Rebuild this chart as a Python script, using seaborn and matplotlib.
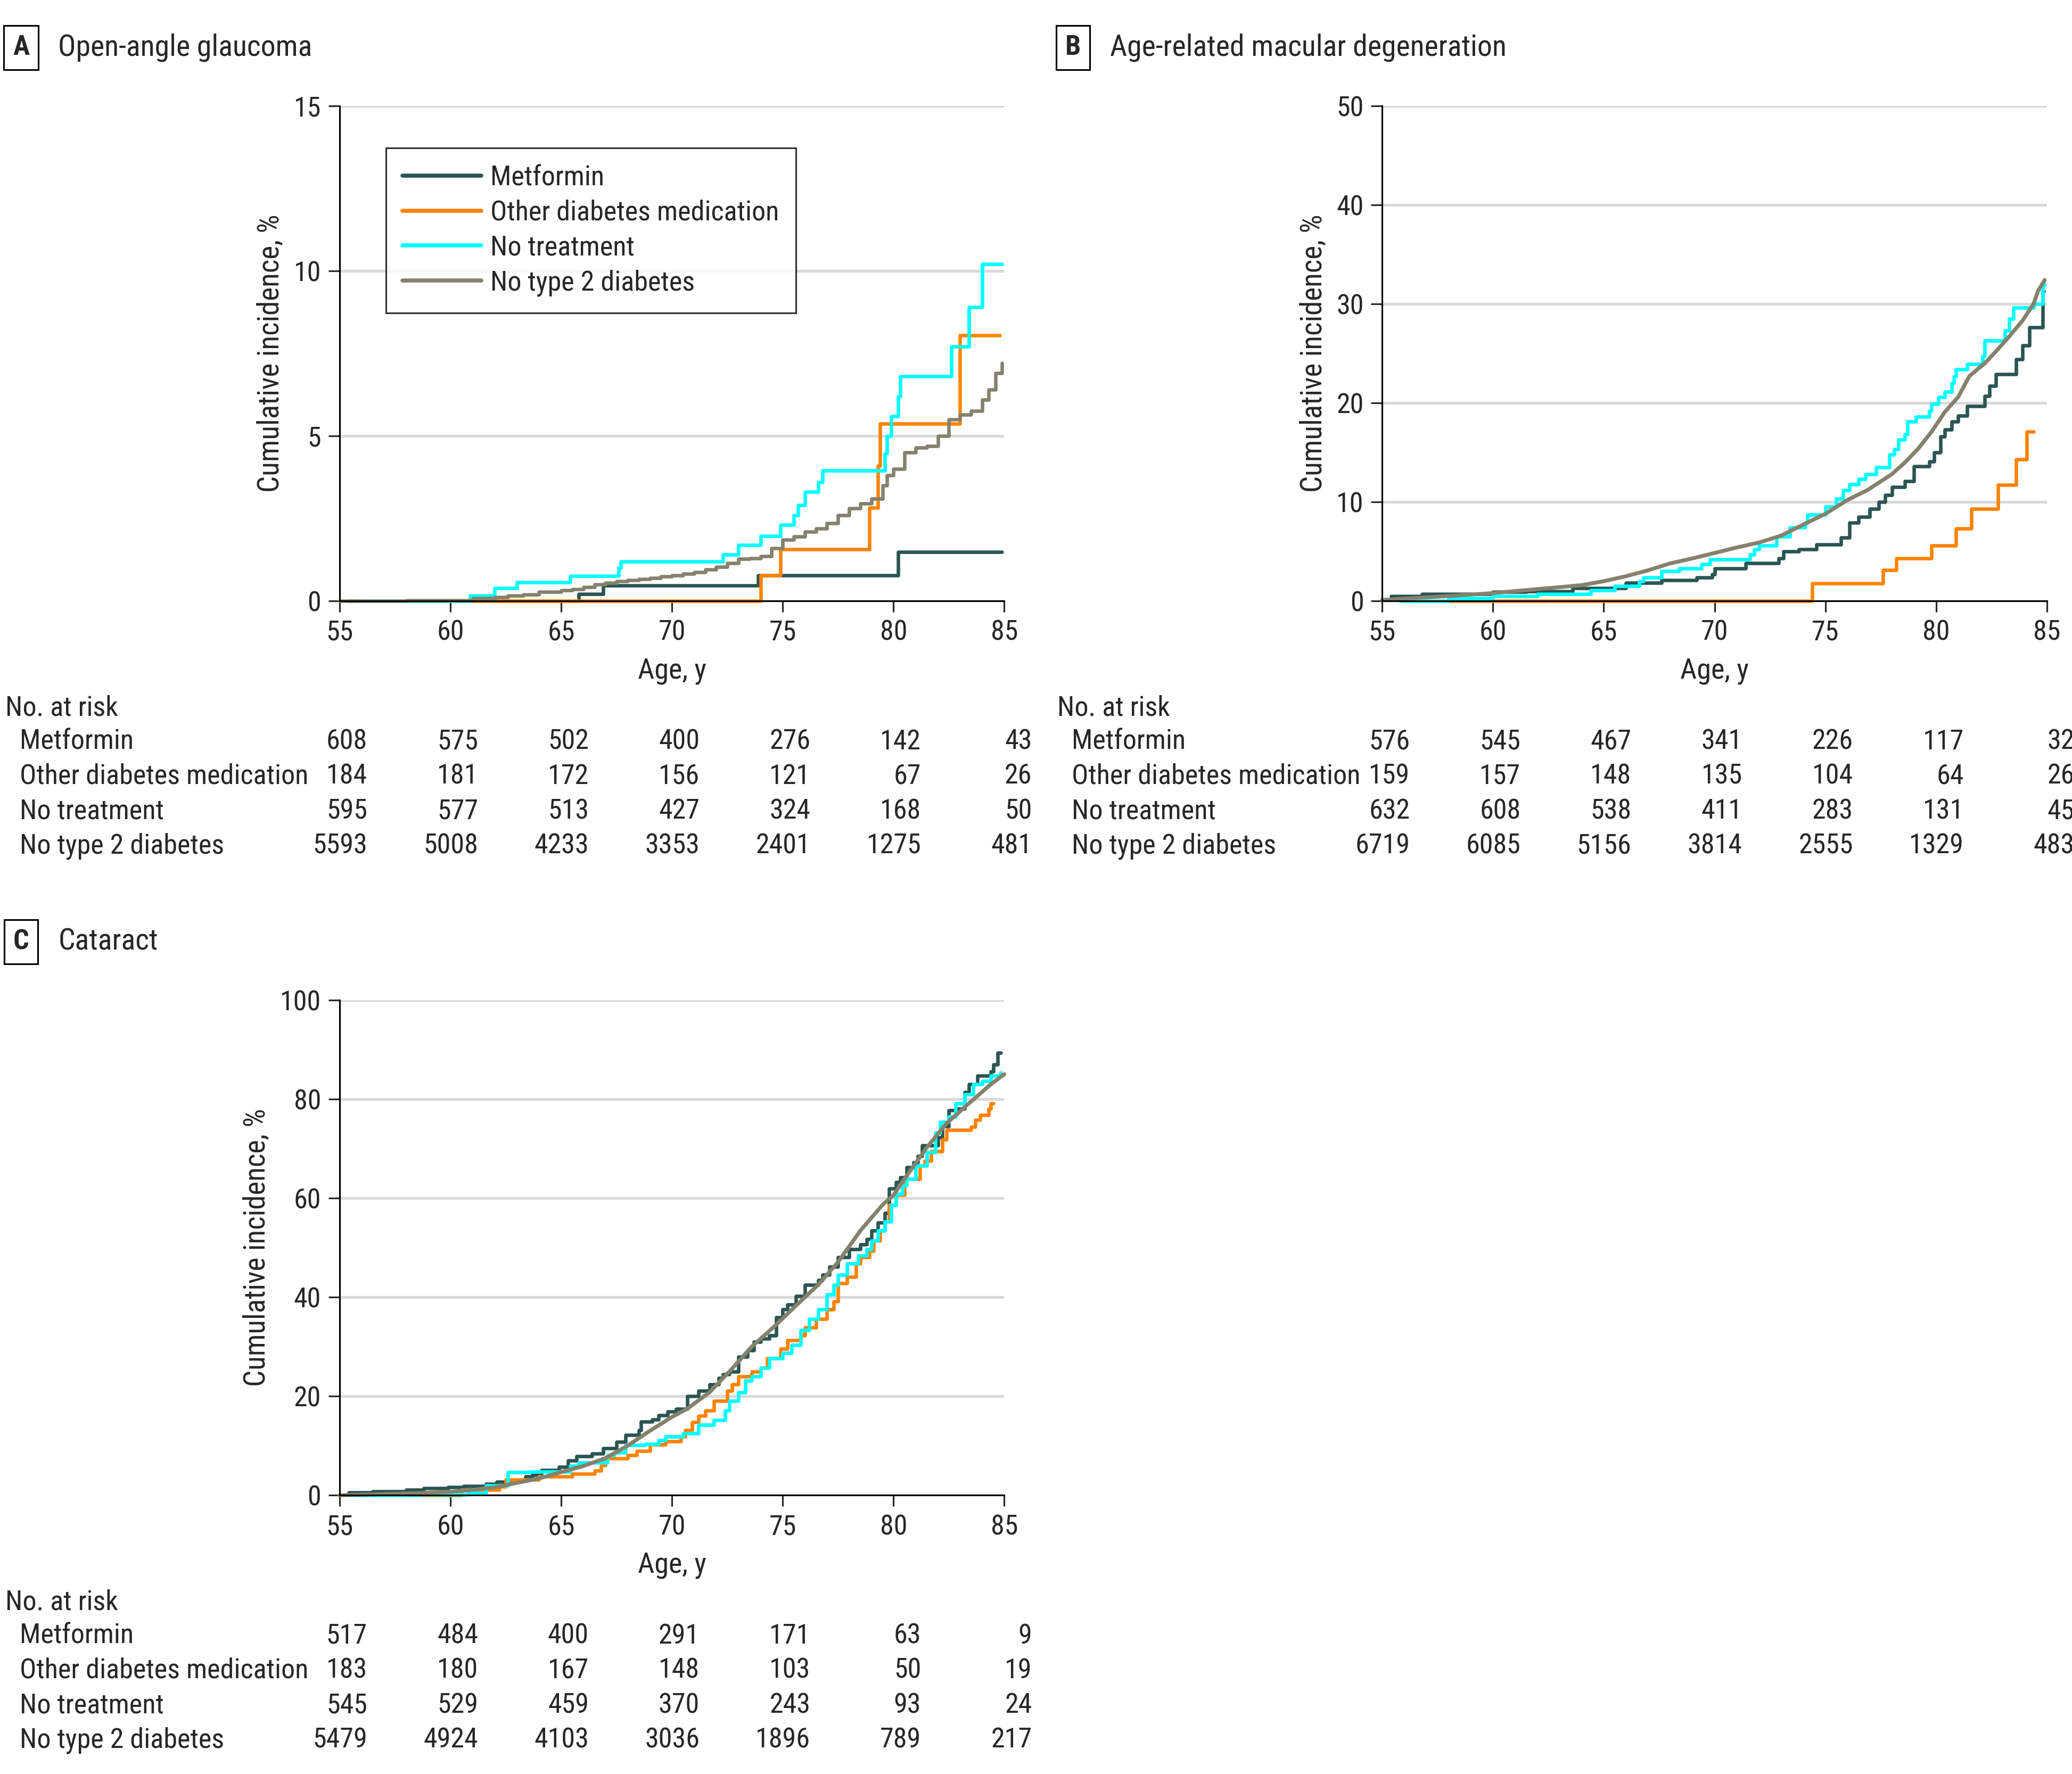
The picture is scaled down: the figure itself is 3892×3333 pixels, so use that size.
import re
import numpy as np
import pandas as pd
import matplotlib
matplotlib.use("Agg")
import matplotlib.pyplot as plt
import matplotlib.transforms as mtrans
import matplotlib.font_manager as fm
from matplotlib.textpath import TextPath
import seaborn as sns

# ---- data ----
groups = ["Metformin", "Other diabetes medication", "No treatment", "No type 2 diabetes"]
colors = ["#2A5552", "#FF8300", "#00FFFF", "#84826D"]
age_ticks = [55, 60, 65, 70, 75, 80, 85]

# panel A: open-angle glaucoma, (age, cumulative incidence %)
a_met = [(55.4, 0), (65.8, 0.22), (66.9, 0.47), (73.9, 0.78), (80.2, 1.48), (84.9, 1.48)]
a_oth = [(58, 0), (74.0, 0.78), (74.9, 1.57), (78.9, 2.82), (79.3, 4.1), (79.4, 5.37),
         (83.0, 8.05), (84.8, 8.05)]
a_not = [(56, 0), (60.9, 0.17), (62.0, 0.39), (63.0, 0.56), (65.4, 0.76), (67.6, 1.0), (67.7, 1.2),
         (72.3, 1.4), (73.0, 1.7), (74.0, 1.97), (74.9, 2.3), (75.5, 2.6), (75.7, 2.9), (76.0, 3.3),
         (76.6, 3.6), (76.8, 3.95), (79.6, 4.47), (79.7, 5.0), (79.9, 5.6), (80.2, 6.2), (80.3, 6.8),
         (82.6, 7.7), (83.4, 8.9), (84.0, 10.2), (84.9, 10.2)]
a_non = [(55, 0), (58, 0.02), (61, 0.09), (62, 0.12), (62.6, 0.17), (63.3, 0.2), (64, 0.27), (65, 0.32),
         (65.5, 0.35), (66, 0.42), (66.5, 0.5), (67, 0.55), (67.5, 0.6), (68, 0.63), (68.5, 0.67),
         (69, 0.7), (69.5, 0.74), (70, 0.78), (70.5, 0.82), (71, 0.88), (71.5, 0.95), (72, 1.03),
         (72.5, 1.15), (73, 1.28), (73.5, 1.3), (74, 1.35), (74.5, 1.6), (75, 1.85), (75.5, 1.95),
         (76, 2.1), (76.5, 2.2), (77, 2.35), (77.5, 2.6), (78, 2.8), (78.5, 2.95), (79, 3.1),
         (79.5, 3.5), (79.7, 3.8), (80, 4.0), (80.5, 4.5), (81, 4.65), (81.5, 4.7), (82, 5.0),
         (82.5, 5.5), (83, 5.65), (83.5, 5.75), (84, 6.1), (84.3, 6.4), (84.6, 6.9), (84.9, 7.2)]

# panel B: age-related macular degeneration
b_met = [(55.4, 0.5), (56.8, 0.7), (60, 0.9), (61.5, 1.0), (63.6, 1.3), (66, 1.85), (67.6, 2.1),
         (69.2, 2.4), (69.9, 2.7), (70.0, 3.3), (71.4, 3.8), (72.9, 4.3), (73.1, 5.0), (73.8, 5.2),
         (74.6, 5.7), (75.7, 6.4), (76.1, 7.9), (76.5, 8.5), (77.0, 9.3), (77.4, 10.0), (77.7, 10.7),
         (78.0, 11.5), (78.6, 12.1), (79.0, 13.6), (79.7, 14.1), (79.9, 15.0), (80.2, 16.6),
         (80.4, 17.3), (80.7, 18.1), (81.0, 18.7), (81.4, 19.7), (82.2, 20.7), (82.4, 21.7),
         (82.7, 22.9), (83.6, 24.4), (83.9, 25.8), (84.2, 27.6), (84.8, 31.3), (84.85, 31.3)]
b_oth = [(58, 0), (74.4, 1.8), (77.6, 3.1), (78.2, 4.3), (79.8, 5.6), (80.9, 7.3), (81.6, 9.3),
         (82.8, 11.7), (83.6, 14.3), (84.1, 17.1), (84.4, 17.1)]
b_not = [(55.8, 0), (58, 0.3), (60, 0.5), (62, 0.7), (64.4, 1.1), (65.5, 1.5), (66.6, 2.0), (66.8, 2.4),
         (67.6, 3.0), (68.4, 3.3), (69.4, 3.7), (69.8, 4.2), (71.6, 4.7), (71.8, 5.2), (72.0, 5.6),
         (72.8, 6.5), (73.4, 7.4), (74.1, 7.9), (74.2, 8.7), (75.0, 9.5), (75.5, 10.3), (75.8, 11.2),
         (76.1, 11.8), (76.5, 12.3), (76.8, 12.8), (77.3, 13.5), (77.9, 14.8), (78.1, 15.3),
         (78.3, 16.3), (78.6, 16.8), (78.7, 18.1), (79.1, 18.6), (79.7, 19.2), (79.8, 19.9),
         (80.1, 20.6), (80.4, 21.1), (80.7, 22.0), (80.8, 22.7), (80.9, 23.4), (81.4, 23.9),
         (82.1, 24.7), (82.2, 26.3), (83.1, 27.3), (83.3, 28.5), (83.5, 29.6), (84.4, 30.0),
         (84.8, 31.9), (84.9, 31.9)]
b_non = [(55, 0.1), (58, 0.5), (60, 0.8), (62, 1.2), (64, 1.6), (65, 2.0), (66, 2.5), (67, 3.1),
         (68, 3.8), (69, 4.3), (70, 4.85), (71, 5.4), (72, 5.9), (73, 6.6), (73.9, 7.6), (75.0, 8.8),
         (76.0, 10.2), (76.9, 11.2), (78.0, 12.8), (78.6, 14.0), (79.2, 15.4), (79.8, 17.1),
         (80.4, 19.1), (81.0, 20.6), (81.5, 22.7), (82.2, 24.0), (82.7, 25.2), (83.3, 26.7),
         (83.9, 28.3), (84.4, 30.0), (84.6, 31.3), (84.9, 32.4)]

# panel C: cataract
c_met = [(55.4, 0.6), (56.5, 0.8), (58.0, 1.1), (58.8, 1.4), (59.9, 1.6), (60.6, 1.9), (61.6, 2.3),
         (62.1, 2.7), (62.6, 3.05), (63.4, 3.8), (63.7, 4.1), (64.1, 5.1), (64.9, 5.7), (65.3, 7.0),
         (65.7, 7.9), (66.4, 8.4), (66.9, 9.5), (67.5, 10.8), (67.9, 12.2), (68.5, 13.1), (68.6, 14.9),
         (69.1, 15.3), (69.4, 16.2), (69.8, 16.9), (70.2, 17.4), (70.7, 20.0), (71.2, 21.1),
         (71.7, 22.4), (72.1, 23.7), (72.3, 24.4), (72.6, 25.0), (73.0, 28.0), (73.4, 29.3),
         (73.7, 31.0), (74.0, 31.6), (74.4, 32.3), (74.7, 35.9), (75.0, 37.5), (75.2, 38.5),
         (75.6, 40.2), (76.0, 42.5), (76.6, 43.5), (76.8, 44.5), (77.1, 46.1), (77.5, 48.1),
         (78.0, 49.7), (78.5, 50.7), (78.8, 51.7), (79.0, 53.4), (79.3, 55.0), (79.6, 57.0),
         (79.8, 61.9), (80.1, 63.2), (80.3, 64.2), (80.6, 66.2), (80.9, 67.2), (81.1, 68.5),
         (81.3, 70.6), (82.0, 72.2), (82.2, 74.5), (82.5, 77.7), (82.8, 78.1), (83.2, 81.4),
         (83.4, 83.0), (83.8, 84.7), (84.4, 85.6), (84.5, 87.0), (84.7, 89.3), (84.85, 89.3)]
c_oth = [(58.1, 0), (60.5, 1.15), (62.2, 1.8), (62.5, 3.2), (64.0, 3.8), (65.5, 4.3), (66.5, 5.0),
         (66.8, 6.1), (67.0, 7.5), (68.0, 8.1), (68.4, 9.0), (69.0, 10.2), (69.7, 10.9), (70.4, 11.9),
         (70.6, 13.2), (70.9, 14.8), (71.2, 16.1), (71.5, 17.1), (71.9, 19.1), (72.5, 21.1),
         (72.7, 22.4), (73.0, 24.0), (73.6, 25.0), (74.0, 25.7), (74.3, 27.7), (74.9, 29.6),
         (75.2, 31.3), (75.8, 32.3), (76.0, 33.9), (76.5, 35.6), (77.0, 37.5), (77.3, 39.2),
         (77.5, 42.8), (77.9, 44.1), (78.3, 46.8), (78.5, 48.1), (78.9, 49.4), (79.1, 51.4),
         (79.4, 53.4), (79.6, 55.3), (79.8, 58.6), (80.1, 60.6), (80.5, 63.9), (81.2, 66.5),
         (81.4, 67.5), (81.7, 69.5), (82.2, 71.8), (82.4, 73.8), (83.5, 74.4), (83.7, 75.8),
         (83.9, 76.8), (84.3, 78.1), (84.4, 79.1), (84.5, 79.1)]
c_not = [(55.4, 0), (58.6, 0.1), (60.8, 0.5), (61.6, 2.0), (62.6, 4.7), (63.6, 4.8), (65.4, 5.9),
         (65.8, 6.6), (67.1, 8.1), (67.4, 8.6), (67.9, 10.1), (68.8, 10.4), (69.4, 11.1), (69.7, 11.9),
         (70.5, 12.5), (71.2, 14.2), (71.9, 15.2), (72.4, 17.1), (72.6, 19.1), (73.0, 20.8),
         (73.3, 23.1), (73.6, 24.0), (74.0, 25.7), (74.4, 27.7), (75.0, 28.7), (75.4, 30.3),
         (75.8, 33.3), (76.2, 35.6), (76.6, 37.5), (77.0, 40.5), (77.3, 42.5), (77.5, 44.5),
         (77.9, 46.8), (78.4, 48.4), (78.8, 49.7), (79.0, 51.4), (79.3, 53.4), (79.6, 55.3),
         (79.9, 58.6), (80.1, 60.9), (80.4, 62.6), (80.6, 63.9), (81.0, 66.5), (81.5, 69.2),
         (81.9, 73.2), (82.1, 75.4), (82.5, 76.4), (82.8, 79.1), (83.2, 81.0), (83.6, 83.0),
         (84.0, 83.6), (84.4, 84.7), (84.85, 85.3)]
c_non = [(55, 0), (58.3, 0.4), (60, 0.7), (61, 1.1), (62, 1.6), (63, 2.5), (64, 3.4), (65, 4.7),
         (66, 5.9), (67, 7.5), (68, 10.0), (69, 13.0), (70, 15.8), (70.7, 17.5), (71.7, 20.8),
         (72.6, 25.0), (73.6, 30.0), (74.6, 34.0), (75.6, 38.3), (76.6, 42.5), (77.5, 47.1),
         (78.5, 53.4), (79.5, 58.6), (80.0, 60.6), (80.5, 63.9), (81.5, 70.2), (82.4, 75.1),
         (83.4, 79.1), (84.4, 83.0), (85, 85.0)]

# numbers at risk
a_risk = [[608, 575, 502, 400, 276, 142, 43],
          [184, 181, 172, 156, 121, 67, 26],
          [595, 577, 513, 427, 324, 168, 50],
          [5593, 5008, 4233, 3353, 2401, 1275, 481]]
b_risk = [[576, 545, 467, 341, 226, 117, 32],
          [159, 157, 148, 135, 104, 64, 26],
          [632, 608, 538, 411, 283, 131, 45],
          [6719, 6085, 5156, 3814, 2555, 1329, 483]]
c_risk = [[517, 484, 400, 291, 171, 63, 9],
          [183, 180, 167, 148, 103, 50, 19],
          [545, 529, 459, 370, 243, 93, 24],
          [5479, 4924, 4103, 3036, 1896, 789, 217]]

panels = [
    ("A", "Open-angle glaucoma", [a_met, a_oth, a_not, a_non], [0, 5, 10, 15], a_risk, True),
    ("B", "Age-related macular degeneration", [b_met, b_oth, b_not, b_non], [0, 10, 20, 30, 40, 50], b_risk, False),
    ("C", "Cataract", [c_met, c_oth, c_not, c_non], [0, 20, 40, 60, 80, 100], c_risk, False),
]


def pick_font():
    entries = fm.fontManager.ttflist
    names = {f.name for f in entries}
    for p in ["Roboto Condensed", "Liberation Sans Narrow", "Noto Sans Condensed",
              "DejaVu Sans Condensed", "Arial Narrow", "Open Sans Condensed"]:
        if p in names:
            return p, "normal"
    for fam in ["Roboto", "Noto Sans", "DejaVu Sans", "Open Sans", "Inter", "Lato"]:
        for f in entries:
            if f.name == fam and str(f.stretch) in ("condensed", "semi-condensed", "extra-condensed"):
                return fam, f.stretch
    for f in entries:
        if re.search("narrow|condensed", f.name, re.I):
            return f.name, "normal"
    return "Liberation Sans", "normal"


sns.set_style("white")
fam, stretch = pick_font()
plt.rcParams["font.family"] = [fam, "DejaVu Sans"]
plt.rcParams["font.stretch"] = stretch

# size the font so the longest row label is about as wide as in the reference
tp = TextPath((0, 0), "Other diabetes medication", size=10,
              prop=fm.FontProperties(family=fam, stretch=stretch))
FS = float(np.clip(10 * 158.0 / tp.get_extents().width, 11.5, 15.0))

W, H = 1568.0, 1343.0  # layout measured in reference pixels (shrunk view)
fig = plt.figure(figsize=(15.568, 13.332), dpi=250)

positions = [(257, 80), (1046, 80), (257, 757)]
aw, ah = 503, 375
pal = dict(zip(groups, colors))

for (letter, title, series, yticks, risk, all_steps), (lx, ty) in zip(panels, positions):
    ax = fig.add_axes([lx / W, 1 - (ty + ah) / H, aw / W, ah / H])
    rows = []
    for g, pts in zip(groups, series):
        for a, v in pts:
            rows.append((g, a, v))
    df = pd.DataFrame(rows, columns=["group", "age", "inc"])
    step_groups = groups if all_steps else groups[:3]
    sns.lineplot(data=df[df.group.isin(step_groups)], x="age", y="inc", hue="group",
                 hue_order=step_groups, palette=pal, drawstyle="steps-post", estimator=None,
                 sort=False, linewidth=1.9, legend=False, ax=ax, clip_on=False)
    if not all_steps:
        sns.lineplot(data=df[df.group == groups[3]], x="age", y="inc", color=colors[3],
                     estimator=None, sort=False, linewidth=2.1, legend=False, ax=ax, clip_on=False)
    ax.set_xlim(55, 85)
    ax.set_ylim(0, yticks[-1])
    ax.set_xticks(age_ticks)
    ax.set_yticks(yticks)
    ax.tick_params(axis="both", labelsize=FS, length=6, width=0.9, direction="out",
                   bottom=True, left=True, pad=4)
    ax.yaxis.grid(True, color="#D9D9D9", linewidth=1.5)
    ax.xaxis.grid(False)
    ax.set_axisbelow(True)
    sns.despine(ax=ax)
    for s in ("left", "bottom"):
        ax.spines[s].set_color("black")
        ax.spines[s].set_linewidth(0.9)
    ax.set_xlabel("Age, y", fontsize=FS * 1.04, labelpad=6)
    ax.set_ylabel("Cumulative incidence, %", fontsize=FS * 1.06, labelpad=5)

    # panel heading
    bx = 4 if letter != "B" else 800
    fig.text((bx + 12) / W, 1 - (ty - 44) / H, letter, fontsize=FS, fontweight="bold",
             ha="center", va="center",
             bbox=dict(boxstyle="square,pad=0.32", fc="white", ec="black", lw=0.9))
    fig.text((bx + 40) / W, 1 - (ty - 44) / H, title, fontsize=FS * 1.07, ha="left", va="center")

    # number at risk table
    tbl_top = ty + ah + 81
    fig.text(bx / W, 1 - tbl_top / H, "No. at risk", fontsize=FS, ha="left", va="center")
    tr = mtrans.blended_transform_factory(ax.transData, fig.transFigure)
    for i, (g, counts) in enumerate(zip(groups, risk)):
        yy = 1 - (tbl_top + 25.5 + 26.3 * i) / H
        fig.text((bx + 11) / W, yy, g, fontsize=FS, ha="left", va="center")
        for x, n in zip(age_ticks, counts):
            ax.text(x + 1.25, yy, str(n), transform=tr, fontsize=FS, ha="right", va="center")

    if letter == "A":
        handles = [plt.Line2D([], [], color=c, lw=2.2) for c in colors]
        leg = ax.legend(handles, groups, loc="upper left",
                        bbox_to_anchor=(292 / W, 1 - 112 / H), bbox_transform=fig.transFigure,
                        fontsize=FS, frameon=True, fancybox=False, borderaxespad=0,
                        handlelength=42.5 / FS, handletextpad=5.0 / FS, labelspacing=0.3,
                        borderpad=0.6)
        leg.get_frame().set_edgecolor("black")
        leg.get_frame().set_linewidth(0.9)

fig.savefig("out.png", dpi=250, facecolor="white")
